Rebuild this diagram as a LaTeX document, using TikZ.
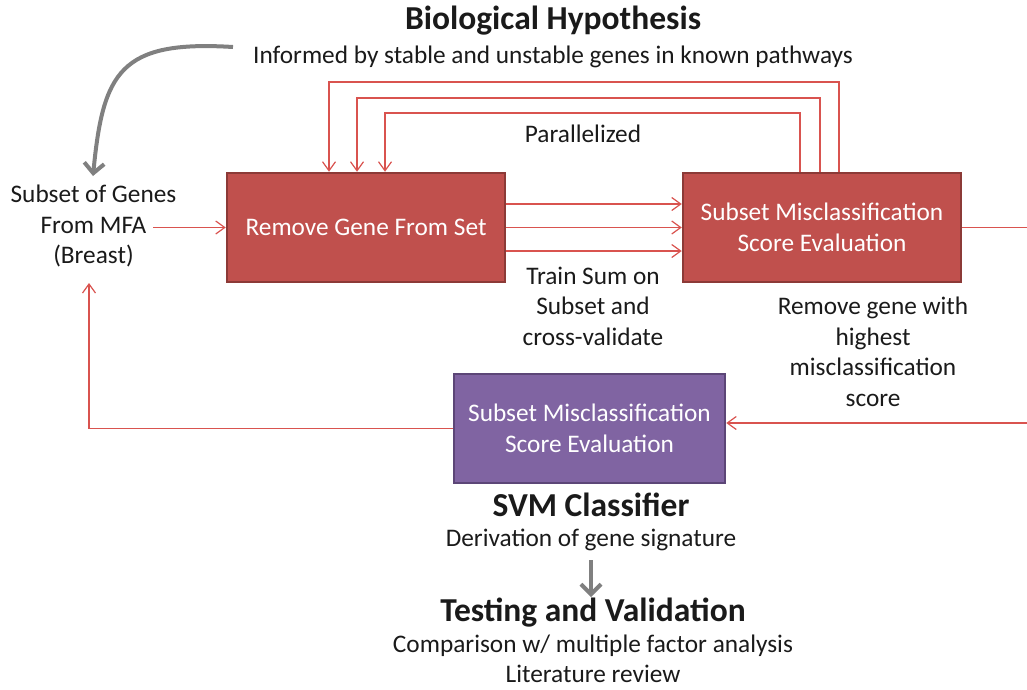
\documentclass[tikz,border=0pt]{standalone}
\usepackage{fontspec}
\setmainfont{Carlito}
\usetikzlibrary{arrows.meta,calc}
\definecolor{boxred}{HTML}{C0504D}
\definecolor{boxredd}{HTML}{8C3A37}
\definecolor{boxpur}{HTML}{8064A2}
\definecolor{boxpurd}{HTML}{5C4677}
\definecolor{linered}{HTML}{D9534F}
\definecolor{arrgray}{HTML}{808080}
\definecolor{txt}{HTML}{1A1A1A}
\tikzset{
  txtnode/.style={align=center,text=txt,font=\fontsize{25.3}{30.5}\selectfont,inner sep=0pt},
  titlenode/.style={align=center,text=txt,font=\fontsize{33.5}{36}\selectfont\bfseries,inner sep=0pt},
  redbox/.style={fill=boxred,draw=boxredd,line width=2.5pt,minimum width=278pt,minimum height=109pt,
     text=white,align=center,font=\fontsize{25.3}{30.5}\selectfont,inner sep=0pt},
  purbox/.style={fill=boxpur,draw=boxpurd,line width=2.5pt,minimum width=271pt,minimum height=109pt,
     text=white,align=center,font=\fontsize{25.3}{30.5}\selectfont,inner sep=0pt},
  conn/.style={draw=linered,line width=1.2pt,-{Straight Barb[length=9pt,width=13pt,line width=1.2pt]}},
  plainconn/.style={draw=linered,line width=1.2pt},
  grayarrow/.style={draw=arrgray,line width=4pt,-{Straight Barb[length=10pt,width=20pt,line width=4pt]}}
}
\begin{document}
\begin{tikzpicture}[x=1pt,y=-1pt]
\useasboundingbox (0,0) rectangle (1027,689);
% titles
\node[titlenode] (hyp) at (553,21) {Biological Hypothesis};
\node[txtnode] (hypsub) at (553,57) {Informed by stable and unstable genes in known pathways};
\node[txtnode] (subset) at (93.5,226) {Subset of Genes\\From MFA\\(Breast)};
% boxes
\node[redbox] (box1) at (366,227.5) {Remove Gene From Set};
\node[redbox] (box2) at (822,227.5) {Subset Misclassification\\Score Evaluation};
\node[purbox] (pur) at (589.5,428.5) {Subset Misclassification\\Score Evaluation};
% labels
\node[txtnode] (par) at (583,134) {Parallelized};
\node[txtnode] (train) at (593,306) {Train Sum on\\Subset and\\cross-validate};
\node[txtnode] (remove) at (873,352) {Remove gene with\\highest\\misclassification\\score};
\node[titlenode] (svm) at (591,505) {SVM Classifier};
\node[txtnode] (deriv) at (591,540) {Derivation of gene signature};
\node[titlenode] (test) at (593,613) {Testing and Validation};
\node[txtnode] (comp) at (593,659) {Comparison w/ multiple factor analysis\\Literature review};
% coordinates
\coordinate (re1) at (1027,227.5);
\coordinate (re2) at (1027,423);
\coordinate (lt) at (89,283);
\coordinate (cs) at (233,47);
\coordinate (ce) at (93,176);
% connectors
\draw[conn] (box1.west -| 153,0) -- (box1.west);
\draw[conn] ([yshift=23.5pt]box1.east) -- ([yshift=23.5pt]box2.west);
\draw[conn] (box1.east) -- (box2.west);
\draw[conn] ([yshift=-23.5pt]box1.east) -- ([yshift=-23.5pt]box2.west);
\draw[conn] (box2.north -| 839,0) |- (329,82) -- (box1.north -| 329,0);
\draw[conn] (box2.north -| 820,0) |- (357,98) -- (box1.north -| 357,0);
\draw[conn] (box2.north -| 800,0) |- (385,113) -- (box1.north -| 385,0);
\draw[plainconn] (box2.east) -- (re1);
\draw[conn] (re2) -- (pur.east |- re2);
\draw[conn] (pur.west) -| (lt);
% gray arrows
\draw[grayarrow] (cs) .. controls (120,40) and (103,72) .. (ce);
\draw[grayarrow] (deriv.south |- 0,560) -- (deriv.south |- 0,597);
\end{tikzpicture}
\end{document}
